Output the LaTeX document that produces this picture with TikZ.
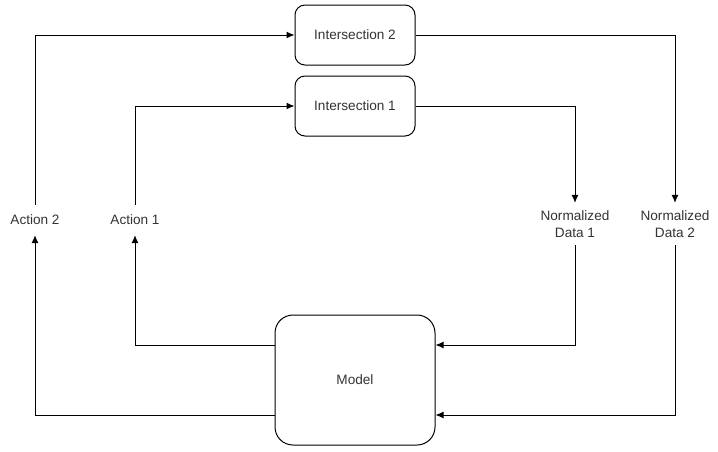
\documentclass[tikz,border=0pt]{standalone}
\usepackage{fontspec}
\setmainfont{Liberation Sans}
\usetikzlibrary{positioning,arrows.meta}

\begin{document}
\begin{tikzpicture}[x=1pt,y=-1pt]
    \tikzset{
        node/.style = {rectangle, draw, line width=1pt, rounded corners=10pt, minimum width=120pt, minimum height=60pt, text=black!80},
        model/.style = {node, rounded corners=18pt, minimum width=160pt, minimum height=130pt},
        tag/.style = {inner sep=0pt, align=center, minimum height=30pt, text=black!80},
        line/.style = {draw, line width=1pt, -{Latex[length=8pt,width=7pt]}},
    }
    \useasboundingbox (0,0) rectangle (718,451);
    \tikzset{every node/.append style={font=\fontsize{13.6pt}{17pt}\selectfont}}

    \node[node](int2) at (355,35){Intersection 2};
    \node[node](int1)[below = 10pt of int2]{Intersection 1};

    \node[tag](action2) at (35,220){Action 2};
    \node[tag](action1) at (135,220){Action 1};

    \node[tag, minimum height=42pt](norm1) at (575,224){Normalized\\Data 1};
    \node[tag, minimum height=42pt](norm2) at (675,224){Normalized\\Data 2};

    \node[model](model) at (355,380){Model};

    \path [line] (action2) |- (int2);
    \path [line] (action1) |- (int1);

    \path [line] (int1) -| (norm1);
    \path [line] (int2) -| (norm2);

    \path [line] (norm1) |- ([yshift=35pt]model.east);
    \path [line] (norm2) |- ([yshift=-35pt]model.east);

    \path [line] ([yshift=35pt]model.west) -| (action1);
    \path [line] ([yshift=-35pt]model.west) -| (action2);

\end{tikzpicture}
\end{document}
